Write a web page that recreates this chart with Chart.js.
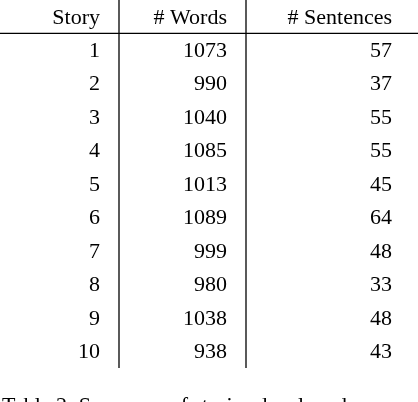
<!DOCTYPE html>
<html>
<head>
<meta charset="utf-8">
<script src="https://cdn.jsdelivr.net/npm/chart.js@4/dist/chart.umd.min.js"></script>
<style>
  body { margin: 0; background: #fff; }
</style>
</head>
<body>
<canvas id="storyTable" width="418" height="402"></canvas>
<script>
const headers = ['Story', '# Words', '# Sentences'];
const stories = ['1', '2', '3', '4', '5', '6', '7', '8', '9', '10'];
const wordCounts = [1073, 990, 1040, 1085, 1013, 1089, 999, 980, 1038, 938];
const sentenceCounts = [57, 37, 55, 55, 45, 64, 48, 33, 48, 43];
const caption = 'Table 2: Summary of stories developed';

const rowLabels = ['header'].concat(stories);

// draws the table text and rules using the chart's y scale for row positions
const tablePlugin = {
    id: 'tablePlugin',
    afterDraw(chart) {
        const ctx = chart.ctx;
        const y = chart.scales.y;
        const colRight = [100, 227, 392];
        const rules = [119, 246];
        ctx.save();
        ctx.fillStyle = '#000';
        ctx.strokeStyle = '#000';
        ctx.lineWidth = 1.3;
        ctx.font = '22px "Liberation Serif", "DejaVu Serif", serif';
        ctx.textAlign = 'right';
        ctx.textBaseline = 'middle';

        headers.forEach((h, c) => ctx.fillText(h, colRight[c], y.getPixelForValue(0) + 1));
        stories.forEach((s, i) => {
            const py = y.getPixelForValue(i + 1) + 1;
            ctx.fillText(s, colRight[0], py);
            ctx.fillText(String(wordCounts[i]), colRight[1], py);
            ctx.fillText(String(sentenceCounts[i]), colRight[2], py);
        });

        // header rule
        const hy = (y.getPixelForValue(0) + y.getPixelForValue(1)) / 2;
        ctx.beginPath();
        ctx.moveTo(0, hy);
        ctx.lineTo(418, hy);
        ctx.stroke();

        // vertical rules
        rules.forEach(x => {
            ctx.beginPath();
            ctx.moveTo(x, 0);
            ctx.lineTo(x, y.bottom);
            ctx.stroke();
        });

        // caption, cut by the bottom edge
        ctx.textAlign = 'left';
        ctx.textBaseline = 'alphabetic';
        ctx.fillText(caption, 2, 412);
        ctx.restore();
    }
};

new Chart(document.getElementById('storyTable'), {
    type: 'scatter',
    data: {
        labels: rowLabels,
        datasets: [{ data: [] }]
    },
    options: {
        responsive: false,
        animation: false,
        layout: { padding: { top: 0, bottom: 34, left: 0, right: 0 } },
        plugins: { legend: { display: false }, tooltip: { enabled: false } },
        scales: {
            x: { type: 'linear', display: false, min: 0, max: 1 },
            y: { type: 'category', labels: rowLabels, offset: true, display: false }
        }
    },
    plugins: [tablePlugin]
});
</script>
</body>
</html>
